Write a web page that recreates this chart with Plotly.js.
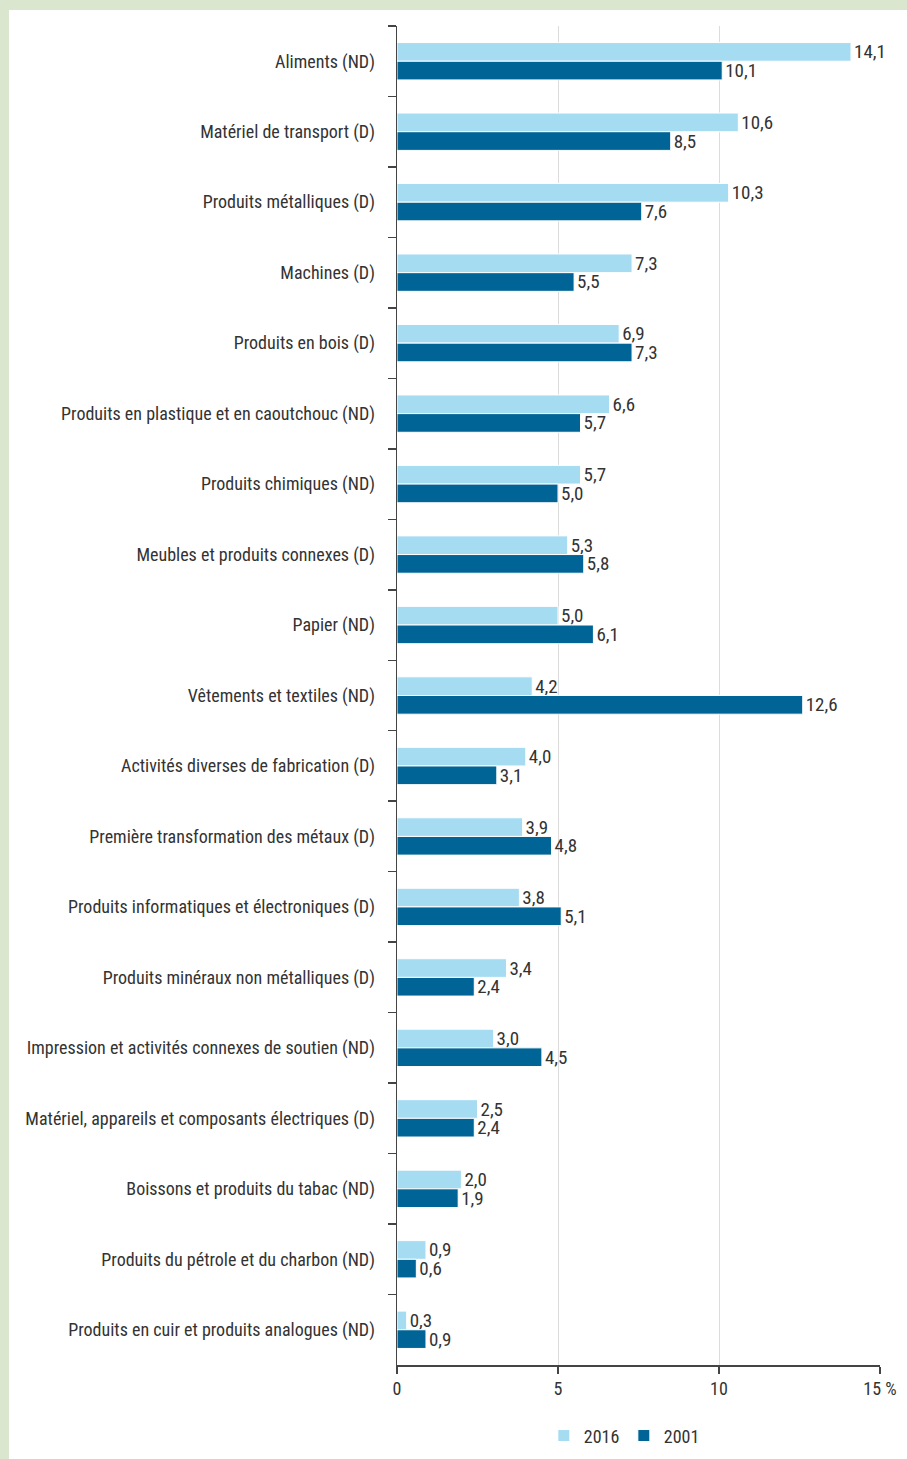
<!DOCTYPE html>
<html>
<head>
<meta charset="utf-8">
<script src="https://cdn.plot.ly/plotly-3.0.1.min.js"></script>
<style>
html,body{margin:0;padding:0;background:#dbe6cf;width:907px;height:1459px;overflow:hidden;}
#chart{position:absolute;left:9px;top:10px;width:898px;height:1449px;background:#fff;}
</style>
</head>
<body>
<div id="chart"></div>
<script>
const categories = [
  "Aliments (ND)",
  "Matériel de transport (D)",
  "Produits métalliques (D)",
  "Machines (D)",
  "Produits en bois (D)",
  "Produits en plastique et en caoutchouc (ND)",
  "Produits chimiques (ND)",
  "Meubles et produits connexes (D)",
  "Papier (ND)",
  "Vêtements et textiles (ND)",
  "Activités diverses de fabrication (D)",
  "Première transformation des métaux (D)",
  "Produits informatiques et électroniques (D)",
  "Produits minéraux non métalliques (D)",
  "Impression et activités connexes de soutien (ND)",
  "Matériel, appareils et composants électriques (D)",
  "Boissons et produits du tabac (ND)",
  "Produits du pétrole et du charbon (ND)",
  "Produits en cuir et produits analogues (ND)"
];
const values2016 = [14.1,10.6,10.3,7.3,6.9,6.6,5.7,5.3,5.0,4.2,4.0,3.9,3.8,3.4,3.0,2.5,2.0,0.9,0.3];
const values2001 = [10.1,8.5,7.6,5.5,7.3,5.7,5.0,5.8,6.1,12.6,3.1,4.8,5.1,2.4,4.5,2.4,1.9,0.6,0.9];
const xTickVals = [0,5,10,15];
const xTickText = ["0","5","10","15 %"];

const FONT = "'Roboto Condensed', 'Liberation Sans Narrow', 'DejaVu Sans Condensed', 'Liberation Sans', sans-serif";
const fmt = v => v.toFixed(1).replace('.', ',');

const t2016 = {
  type:'bar', orientation:'h', name:'2016',
  y: categories, x: values2016,
  text: values2016.map(fmt), textposition:'outside', cliponaxis:false, constraintext:'none',
  textfont:{family:FONT,size:19,color:'#333'},
  marker:{color:'#a6dcf2', line:{color:'#ffffff',width:1}},
  hoverinfo:'skip'
};
const t2001 = {
  type:'bar', orientation:'h', name:'2001',
  y: categories, x: values2001,
  text: values2001.map(fmt), textposition:'outside', cliponaxis:false, constraintext:'none',
  textfont:{family:FONT,size:19,color:'#333'},
  marker:{color:'#006496', line:{color:'#ffffff',width:1}},
  hoverinfo:'skip'
};

const layout = {
  width:898, height:1449,
  margin:{l:388, r:27, t:16, b:94},
  paper_bgcolor:'rgba(0,0,0,0)', plot_bgcolor:'#fff',
  font:{family:FONT, size:18, color:'#333'},
  barmode:'group', bargap:0.47, bargroupgap:0,
  showlegend:true,
  legend:{orientation:'h', xref:'container', yref:'container', x:0.5956, xanchor:'left', y:0.016, yanchor:'middle',
    entrywidth:35, itemwidth:30, font:{family:FONT,size:18,color:'#333'}, bgcolor:'rgba(0,0,0,0)'},
  xaxis:{range:[0,15], tickvals:xTickVals, ticktext:xTickText,
    showgrid:true, gridcolor:'#dcdcdc', gridwidth:1, zeroline:false,
    showline:true, linecolor:'#444', linewidth:1.5,
    ticks:'outside', ticklen:7, tickcolor:'#444', tickwidth:1.5,
    tickfont:{family:FONT,size:18,color:'#333'}, fixedrange:true},
  yaxis:{type:'category', autorange:'reversed',
    showline:true, linecolor:'#444', linewidth:1.5,
    ticks:'outside', tickson:'boundaries', ticklen:8, tickcolor:'#444', tickwidth:1.5,
    ticklabelstandoff:17,
    showgrid:false, zeroline:false,
    tickfont:{family:FONT,size:18,color:'#333'}, fixedrange:true}
};

Plotly.newPlot('chart', [t2016, t2001], layout, {displayModeBar:false, staticPlot:true});
</script>
</body>
</html>
